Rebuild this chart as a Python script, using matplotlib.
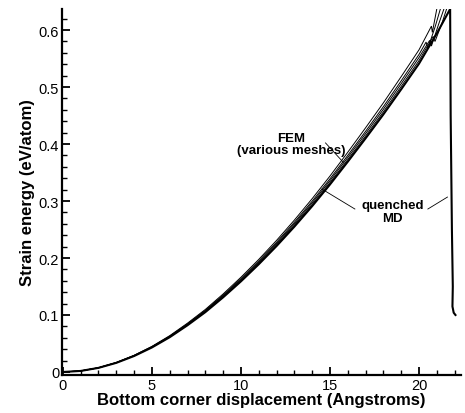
import matplotlib
matplotlib.use("Agg")
import matplotlib.pyplot as plt
from matplotlib.ticker import MultipleLocator

plt.rcParams['font.family'] = ['Liberation Sans', 'DejaVu Sans']

# ---- data ----
x_grid = [0, 1, 2, 3, 4, 5, 6, 7, 8, 9, 10, 11, 12, 13, 14, 15, 16, 17, 18, 19, 20]

# quenched MD curve (loading branch, then sudden drop)
md_x = x_grid + [21, 21.75, 21.78, 21.85, 21.9, 21.88, 21.95, 22.05]
md_y = [0.000, 0.0018, 0.0072, 0.016, 0.028, 0.043, 0.061, 0.082, 0.105, 0.131,
        0.159, 0.189, 0.221, 0.255, 0.291, 0.329, 0.369, 0.410, 0.452, 0.496,
        0.541, 0.594, 0.637, 0.45, 0.25, 0.15, 0.115, 0.104, 0.100]

# FEM curves (various meshes)
fem1_x = x_grid + [20.5, 20.7, 20.75, 21.0]
fem1_y = [0.000, 0.0019, 0.0075, 0.0167, 0.0293, 0.0449, 0.0637, 0.0857, 0.1097, 0.1369,
          0.1662, 0.1975, 0.2309, 0.2665, 0.3041, 0.3438, 0.3856, 0.4285, 0.4723, 0.5183,
          0.5653, 0.595, 0.607, 0.596, 0.637]

fem2_x = x_grid + [20.4, 20.5, 20.9, 21.2]
fem2_y = [0.000, 0.0019, 0.0074, 0.0165, 0.0288, 0.0443, 0.0628, 0.0845, 0.1082, 0.1349,
          0.1638, 0.1947, 0.2276, 0.2627, 0.2997, 0.3389, 0.3801, 0.4223, 0.4656, 0.5109,
          0.5572, 0.579, 0.568, 0.605, 0.637]

fem3_x = x_grid + [20.6, 20.7, 21.1, 21.4]
fem3_y = [0.000, 0.0018, 0.0073, 0.0163, 0.0286, 0.0439, 0.0622, 0.0836, 0.1071, 0.1336,
          0.1622, 0.1928, 0.2254, 0.2601, 0.2968, 0.3356, 0.3764, 0.4182, 0.4610, 0.5059,
          0.5518, 0.582, 0.572, 0.610, 0.637]

fem4_x = x_grid + [20.8, 20.9, 21.3, 21.55]
fem4_y = [0.000, 0.0018, 0.0073, 0.0162, 0.0283, 0.0434, 0.0616, 0.0828, 0.1061, 0.1323,
          0.1606, 0.1909, 0.2232, 0.2576, 0.2939, 0.3323, 0.3727, 0.4141, 0.4565, 0.5010,
          0.5464, 0.589, 0.580, 0.613, 0.637]

fem_curves = [(fem1_x, fem1_y), (fem2_x, fem2_y), (fem3_x, fem3_y), (fem4_x, fem4_y)]

x_ticks = [0, 5, 10, 15, 20]
y_ticks = [0, 0.1, 0.2, 0.3, 0.4, 0.5, 0.6]
y_tick_labels = ['0', '0.1', '0.2', '0.3', '0.4', '0.5', '0.6']

# ---- figure ----
fig = plt.figure(figsize=(4.65, 4.14), dpi=100)
ax = fig.add_axes([0.1333, 0.0918, 0.991 - 0.1333, 0.9758 - 0.0918])

for fx, fy in fem_curves:
    ax.plot(fx, fy, color='black', lw=0.7, solid_joinstyle='miter')
ax.plot(md_x, md_y, color='black', lw=1.5)

ax.set_xlim(-0.05, 22.35)
ax.set_ylim(-0.0053, 0.637)

ax.set_xticks(x_ticks)
ax.set_yticks(y_ticks)
ax.set_yticklabels(y_tick_labels)
ax.xaxis.set_minor_locator(MultipleLocator(1))
ax.yaxis.set_minor_locator(MultipleLocator(0.02))
ax.tick_params(which='major', direction='in', length=6, width=1.3, labelsize=10.5, pad=2)
ax.tick_params(which='minor', direction='in', length=3.5, width=1.0)
for s in ['top', 'right']:
    ax.spines[s].set_visible(False)
for s in ['left', 'bottom']:
    ax.spines[s].set_linewidth(1.6)

ax.set_xlabel('Bottom corner displacement (Angstroms)', fontsize=12, fontweight='bold', labelpad=0)
ax.set_ylabel('Strain energy (eV/atom)', fontsize=12, fontweight='bold', labelpad=3)

# annotations
ax.text(12.8, 0.4, 'FEM\n(various meshes)', ha='center', va='center',
        fontsize=9.5, fontweight='bold', linespacing=1.05)
ax.plot([14.75, 15.75], [0.402, 0.368], color='black', lw=0.6)

ax.text(18.5, 0.282, 'quenched\nMD', ha='center', va='center',
        fontsize=9.5, fontweight='bold', linespacing=1.05)
ax.plot([16.4, 14.55], [0.286, 0.321], color='black', lw=0.6)
ax.plot([20.5, 21.6], [0.286, 0.307], color='black', lw=0.6)

fig.savefig('out.png', dpi=100)
